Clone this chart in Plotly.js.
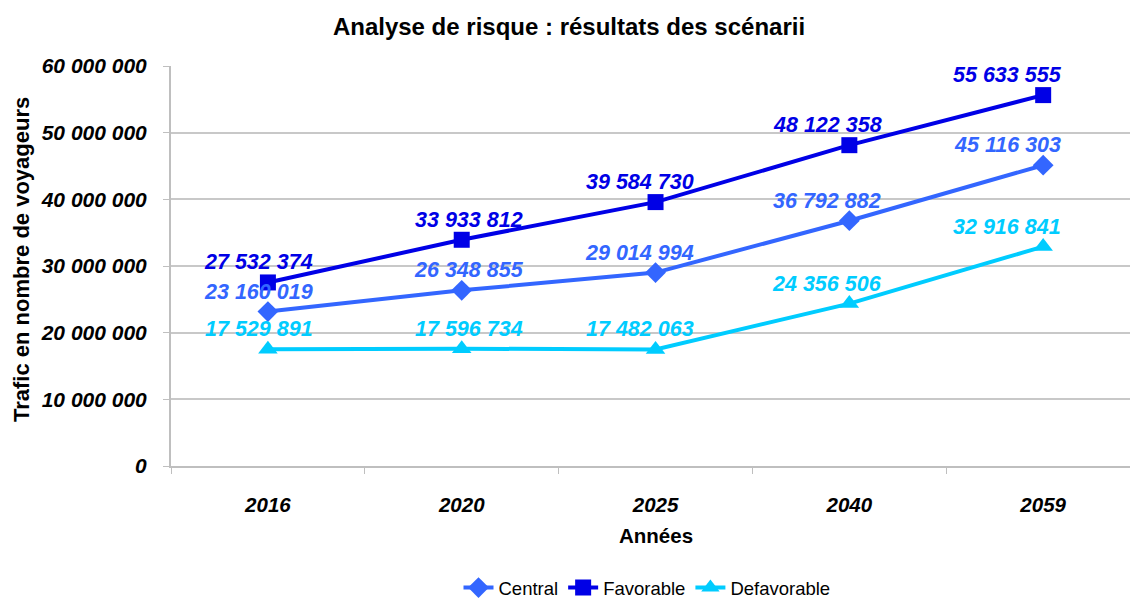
<!DOCTYPE html>
<html>
<head>
<meta charset="utf-8">
<script src="https://cdn.plot.ly/plotly-3.0.1.min.js"></script>
<style>html,body{margin:0;padding:0;background:#fff;}#chart{width:1130px;height:601px;}</style>
</head>
<body>
<div id="chart"></div>
<script>
const years = ['2016', '2020', '2025', '2040', '2059'];
const central = [23160019, 26348855, 29014994, 36792882, 45116303];
const favorable = [27532374, 33933812, 39584730, 48122358, 55633555];
const defavorable = [17529891, 17596734, 17482063, 24356506, 32916841];
const yTicks = [0, 10000000, 20000000, 30000000, 40000000, 50000000, 60000000];

function fmt(v) {
  return String(Math.round(v)).replace(/\B(?=(\d{3})+(?!\d))/g, ' ');
}

const FONT = 'Liberation Sans, Arial, sans-serif';
const colors = {Central: '#3366ff', Favorable: '#0000e6', Defavorable: '#00ccff'};

function series(name, vals, symbol, size) {
  return {
    type: 'scatter', mode: 'lines+markers', name: name,
    x: years, y: vals,
    line: {color: colors[name], width: 4},
    marker: {color: colors[name], symbol: symbol, size: size},
    cliponaxis: false
  };
}

const seriesList = [
  ['Central', central, 'diamond', 16],
  ['Favorable', favorable, 'square', 16],
  ['Defavorable', defavorable, 'triangle-up', 17]
];
const data = seriesList.map(s => series(s[0], s[1], s[2], s[3]));

// label horizontal nudges per category (Excel-like placement)
const labelXShift = [-9, 7, -16, -22, -36];

const annotations = [];
seriesList.forEach(s => {
  s[1].forEach((v, i) => {
    annotations.push({
      x: i, y: v, xref: 'x', yref: 'y',
      text: fmt(v), showarrow: false,
      xanchor: 'center', yanchor: 'middle',
      xshift: labelXShift[i], yshift: 20,
      font: {family: FONT, size: 21.5, color: colors[s[0]], weight: 'bold', style: 'italic'}
    });
  });
});

annotations.push(
  {text: '<b>Années</b>', xref: 'paper', yref: 'paper', x: (656 - 171) / (1130 - 171), y: -(535 - 466) / 400, xanchor: 'center', yanchor: 'middle', showarrow: false, font: {family: FONT, size: 20.5, color: '#000'}},
  {text: '<b>Trafic en nombre de voyageurs</b>', xref: 'paper', yref: 'paper', x: -(171 - 21) / (1130 - 171), y: (466 - 260) / 400, xanchor: 'center', yanchor: 'middle', textangle: -90, showarrow: false, font: {family: FONT, size: 22, color: '#000'}}
);

const layout = {
  width: 1130, height: 601,
  margin: {l: 171, r: 0, t: 66, b: 135, autoexpand: false},
  paper_bgcolor: '#fff', plot_bgcolor: '#fff',
  font: {family: FONT, color: '#000'},
  title: {text: '<b>Analyse de risque : résultats des scénarii</b>', x: 569 / 1130, xref: 'container', xanchor: 'center', y: 1 - 27/601, yref: 'container', yanchor: 'middle', font: {size: 24, color: '#000'}},
  showlegend: true,
  legend: {orientation: 'h', xref: 'container', x: 647 / 1130, xanchor: 'center', yref: 'container', y: 1 - 588 / 601, yanchor: 'middle', font: {size: 18.5, color: '#000'}, traceorder: 'normal'},
  xaxis: {
    type: 'category', range: [-0.5, 4.448],
    tickson: 'boundaries', ticks: 'outside', ticklen: 6, tickcolor: '#bfbfbf',
    showgrid: false, showline: true, linecolor: '#bfbfbf', linewidth: 2,
    tickfont: {size: 20.5, weight: 'bold', style: 'italic', color: '#000'},
    ticklabelstandoff: 19, fixedrange: true
  },
  yaxis: {
    range: [0, 60000000], tickvals: yTicks, ticktext: yTicks.map(fmt),
    ticks: 'outside', ticklen: 6, tickcolor: '#bfbfbf',
    showgrid: true, gridcolor: '#c8c8c8', gridwidth: 2,
    showline: true, linecolor: '#bfbfbf', linewidth: 2, zeroline: false,
    tickfont: {size: 21, weight: 'bold', style: 'italic', color: '#000'},
    ticklabelstandoff: 12, fixedrange: true
  },
  annotations: annotations
};

Plotly.newPlot('chart', data, layout, {displayModeBar: false, staticPlot: true});
</script>
</body>
</html>
